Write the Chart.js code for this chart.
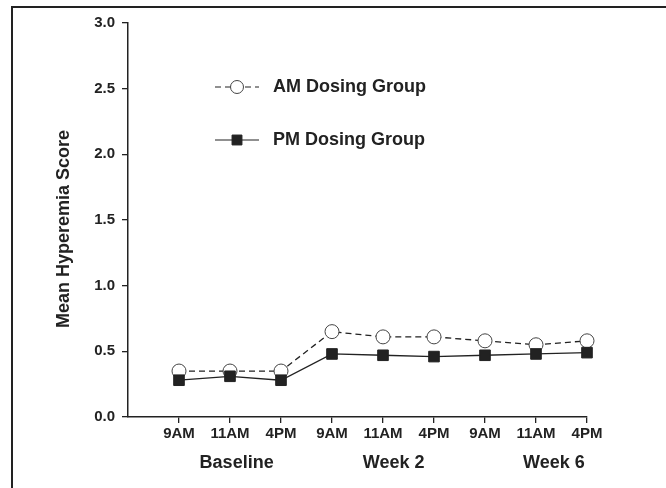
<!DOCTYPE html>
<html>
<head>
<meta charset="utf-8">
<script src="https://cdn.jsdelivr.net/npm/chart.js@4.4.1/dist/chart.umd.min.js"></script>
<style>
  body { margin: 0; background: #fff; }
  #wrap { position: relative; width: 666px; height: 488px; overflow: hidden; }
  #frame { position: absolute; left: 11px; top: 6px; right: -10px; bottom: -10px;
           border-left: 2px solid #222; border-top: 2px solid #222; pointer-events: none; }
  canvas { position: absolute; left: 0; top: 0; }
</style>
</head>
<body>
<div id="wrap">
  <canvas id="chart" width="666" height="488"></canvas>
  <div id="frame"></div>
</div>
<script>
// time points along the x axis (three visits, three times each)
const timeLabels = ["9AM", "11AM", "4PM", "9AM", "11AM", "4PM", "9AM", "11AM", "4PM"];
const visitLabels = ["Baseline", "Week 2", "Week 6"];
const visitCenters = [2.13, 5.21, 8.35];

const amScores = [0.35, 0.35, 0.35, 0.65, 0.61, 0.61, 0.58, 0.55, 0.58];
const pmScores = [0.28, 0.31, 0.28, 0.48, 0.47, 0.46, 0.47, 0.48, 0.49];

const yTicks = [0, 0.5, 1.0, 1.5, 2.0, 2.5, 3.0];

const ink = "#222";
const fontFamily = "'Liberation Sans', Arial, sans-serif";

function toPoints(values) {
  return values.map((v, i) => ({ x: i + 1, y: v }));
}

// draws the y title, visit labels and the in-plot legend
const extras = {
  id: "extras",
  afterDraw(chart) {
    const ctx = chart.ctx;
    const xs = chart.scales.x;
    ctx.save();
    ctx.fillStyle = ink;

    // y axis title
    ctx.font = "bold 18px " + fontFamily;
    ctx.textAlign = "center";
    ctx.textBaseline = "middle";
    ctx.translate(64, 229);
    ctx.rotate(-Math.PI / 2);
    ctx.fillText("Mean Hyperemia Score", 0, 0);
    ctx.setTransform(1, 0, 0, 1, 0, 0);

    // visit labels below the time ticks
    visitLabels.forEach((label, i) => {
      ctx.fillText(label, xs.getPixelForValue(visitCenters[i]), 463);
    });

    // legend
    const sets = chart.data.datasets;
    const rows = [
      { ds: sets[1], y: 87 },
      { ds: sets[0], y: 140 }
    ];
    rows.forEach(row => {
      const ds = row.ds;
      ctx.strokeStyle = ink;
      ctx.lineWidth = 1.2;
      ctx.setLineDash(ds.borderDash || []);
      ctx.beginPath();
      ctx.moveTo(215, row.y);
      ctx.lineTo(259, row.y);
      ctx.stroke();
      ctx.setLineDash([]);
      ctx.fillStyle = ds.pointBackgroundColor;
      ctx.strokeStyle = ds.pointBorderColor;
      ctx.lineWidth = 1;
      Chart.helpers.drawPoint(ctx, {
        pointStyle: ds.pointStyle,
        radius: ds.pointRadius - 0.5,
        borderWidth: 1,
        rotation: 0
      }, 237, row.y);
      ctx.fillStyle = ink;
      ctx.font = "bold 18px " + fontFamily;
      ctx.textAlign = "left";
      ctx.fillText(ds.label, 273, row.y);
    });
    ctx.restore();
  }
};

new Chart(document.getElementById("chart"), {
  type: "line",
  data: {
    datasets: [
      {
        label: "PM Dosing Group",
        data: toPoints(pmScores),
        clip: false,
        borderColor: ink,
        borderWidth: 1.3,
        pointStyle: "rect",
        pointRadius: 7.5,
        pointBackgroundColor: ink,
        pointBorderColor: ink,
        pointBorderWidth: 1
      },
      {
        label: "AM Dosing Group",
        data: toPoints(amScores),
        clip: false,
        borderColor: ink,
        borderWidth: 1.3,
        borderDash: [6, 4],
        pointStyle: "circle",
        pointRadius: 7,
        pointBackgroundColor: "#fff",
        pointBorderColor: "#444",
        pointBorderWidth: 1
      }
    ]
  },
  options: {
    responsive: false,
    animation: false,
    events: [],
    layout: { padding: { left: 0, top: 23, right: 79, bottom: 0 } },
    plugins: { legend: { display: false }, tooltip: { enabled: false } },
    scales: {
      x: {
        type: "linear",
        min: 0,
        max: timeLabels.length,
        afterBuildTicks: scale => {
          scale.ticks = timeLabels.map((_, i) => ({ value: i + 1 }));
        },
        afterFit: scale => { scale.height = 71; },
        grid: { drawOnChartArea: false, drawTicks: true, tickLength: 6, color: ink, lineWidth: 1.3 },
        border: { display: true, color: ink, width: 1.5 },
        ticks: {
          autoSkip: false,
          maxRotation: 0,
          padding: 2,
          color: ink,
          font: { family: fontFamily, size: 15, weight: "bold" },
          callback: v => timeLabels[v - 1]
        }
      },
      y: {
        min: 0,
        max: 3,
        afterBuildTicks: scale => {
          scale.ticks = yTicks.map(v => ({ value: v }));
        },
        afterFit: scale => { scale.width = 128; },
        grid: { drawOnChartArea: false, drawTicks: true, tickLength: 6, color: ink, lineWidth: 1.3 },
        border: { display: true, color: ink, width: 1.5 },
        ticks: {
          padding: 7,
          color: ink,
          font: { family: fontFamily, size: 15, weight: "bold" },
          callback: v => v.toFixed(1)
        }
      }
    }
  },
  plugins: [extras]
});
</script>
</body>
</html>
